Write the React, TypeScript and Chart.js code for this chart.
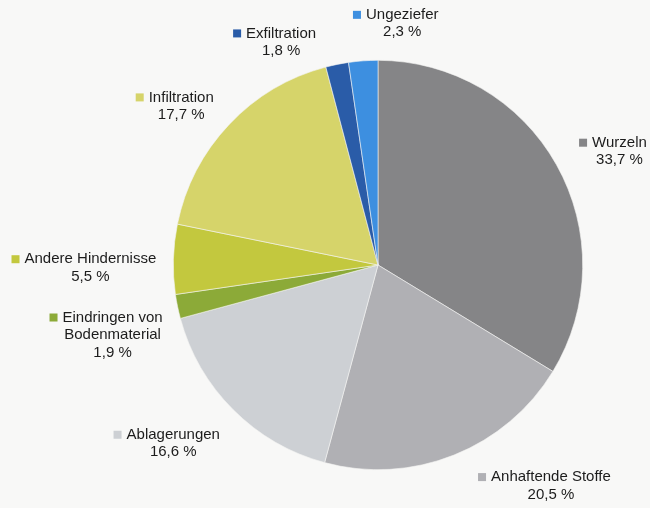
import React, { useEffect, useRef } from "react";
import { Chart, registerables } from "chart.js";

Chart.register(...registerables);

const categories = [
  "Wurzeln",
  "Anhaftende Stoffe",
  "Ablagerungen",
  "Eindringen von Bodenmaterial",
  "Andere Hindernisse",
  "Infiltration",
  "Exfiltration",
  "Ungeziefer",
];
const labelLines = [
  ["Wurzeln"],
  ["Anhaftende Stoffe"],
  ["Ablagerungen"],
  ["Eindringen von", "Bodenmaterial"],
  ["Andere Hindernisse"],
  ["Infiltration"],
  ["Exfiltration"],
  ["Ungeziefer"],
];
const values = [33.7, 20.5, 16.6, 1.9, 5.5, 17.7, 1.8, 2.3];
const valueLabels = ["33,7 %", "20,5 %", "16,6 %", "1,9 %", "5,5 %", "17,7 %", "1,8 %", "2,3 %"];
const colors = ["#858587", "#b0b0b4", "#cdd0d4", "#8caa38", "#c3c83e", "#d6d46a", "#2a5ca8", "#3d8fe0"];
// label offsets relative to the outer midpoint of each slice (layout only)
const labelOffsets = [
  [63, -22],
  [97, 22],
  [-60, 25],
  [-65, 11],
  [-83, 0],
  [-48, -27],
  [-56, -31],
  [39, -46],
];

const labelPlugin = {
  id: "outerLabels",
  afterDraw(chart: any) {
    const ctx = chart.ctx;
    const meta = chart.getDatasetMeta(0);
    ctx.save();
    ctx.font = '15px "Liberation Sans", Arial, sans-serif';
    ctx.textBaseline = "middle";
    meta.data.forEach((arc: any, i: number) => {
      const mid = (arc.startAngle + arc.endAngle) / 2;
      const ox = arc.x + Math.cos(mid) * arc.outerRadius;
      const oy = arc.y + Math.sin(mid) * arc.outerRadius;
      const cx = ox + labelOffsets[i][0];
      const cy = oy + labelOffsets[i][1];
      const lines = [...labelLines[i], valueLabels[i]];
      const w0 = ctx.measureText(lines[0]).width;
      // square marker
      ctx.fillStyle = colors[i];
      ctx.fillRect(cx - w0 / 2 - 13, cy - 4, 8, 8);
      ctx.fillStyle = "#1c1c1c";
      ctx.textAlign = "center";
      lines.forEach((ln, j) => {
        ctx.fillText(ln, cx, cy + j * 17.5);
      });
    });
    ctx.restore();
  },
};

export default function App() {
  const ref = useRef<HTMLCanvasElement>(null);
  useEffect(() => {
    if (!ref.current) return;
    const chart = new Chart(ref.current, {
      type: "pie",
      data: {
        labels: categories,
        datasets: [
          {
            data: values,
            backgroundColor: colors,
            borderColor: "#f4f4f2",
            borderWidth: 0.6,
          },
        ],
      },
      options: {
        responsive: false,
        animation: false,
        layout: { padding: { left: 173, right: 67, top: 60, bottom: 38 } },
        plugins: {
          legend: { display: false },
          tooltip: { enabled: false },
        },
      },
      plugins: [labelPlugin],
    });
    return () => chart.destroy();
  }, []);
  return (
    <div style={{ position: "fixed", left: 0, top: 0, width: 650, height: 508, background: "#f8f8f7" }}>
      <canvas ref={ref} width={650} height={508} />
    </div>
  );
}
